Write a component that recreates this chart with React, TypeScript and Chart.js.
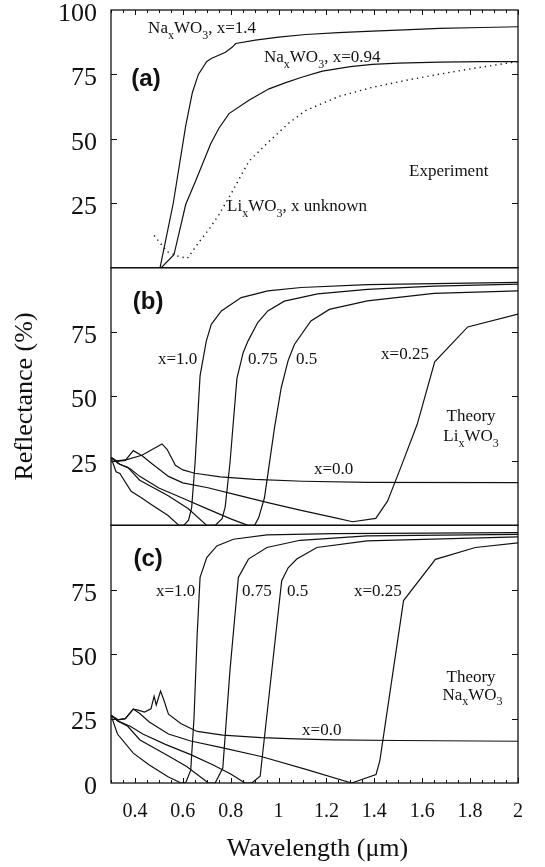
import { useEffect, useRef } from 'react';
import { Chart, registerables } from 'chart.js';

Chart.register(...registerables);

// ---- (a) Experiment ----
const naX14Wavelength = [0.505, 0.56, 0.612, 0.64, 0.665, 0.7, 0.719, 0.778, 0.807, 0.821, 0.903, 1.0, 1.113, 1.25, 1.392, 1.55, 1.672, 1.85, 2.0];
const naX14Reflectance = [0, 25, 55, 68, 75, 80, 81.2, 83.6, 85.6, 87, 88.3, 89.5, 90.5, 91.2, 91.8, 92.4, 92.9, 93.2, 93.5];

const naX094Wavelength = [0.51, 0.563, 0.612, 0.655, 0.716, 0.75, 0.793, 0.876, 0.96, 1.03, 1.1, 1.183, 1.3, 1.392, 1.5, 1.672, 1.85, 2.0];
const naX094Reflectance = [0, 5, 24.5, 34, 48, 54, 59.8, 65, 69.4, 71.8, 74, 76.3, 78, 78.9, 79.4, 79.8, 80, 80];

const liExpWavelength = [0.48, 0.535, 0.58, 0.619, 0.668, 0.71, 0.751, 0.807, 0.876, 0.96, 1.044, 1.113, 1.253, 1.392, 1.532, 1.672, 1.811, 2.0];
const liExpReflectance = [12.5, 6.2, 4.5, 3.6, 10, 15, 20.6, 29.6, 41.3, 49, 56.2, 61, 66.5, 70, 72.7, 75.1, 77.3, 80];

// ---- (b) Theory, LixWO3 ----
const liX00Wavelength = [0.3, 0.325, 0.366, 0.429, 0.513, 0.534, 0.569, 0.6, 0.65, 0.757, 0.9, 1.1, 1.371, 2.0];
const liX00Reflectance = [26.3, 25, 25.5, 27.2, 31.6, 29.5, 23.3, 21.5, 20.2, 18.8, 17.8, 17.1, 16.7, 16.6];

const liX025Wavelength = [0.3, 0.325, 0.36, 0.393, 0.43, 0.47, 0.54, 0.6, 0.705, 0.816, 0.955, 1.094, 1.233, 1.309, 1.406, 1.455, 1.51, 1.579, 1.652, 1.79, 2.0];
const liX025Reflectance = [26.3, 24.8, 25.2, 29, 27, 24, 19, 16.5, 14.6, 12, 8.8, 5.8, 3, 1.4, 2.7, 9.4, 22.4, 39.2, 63.5, 77, 82];

const liX05Wavelength = [0.3, 0.33, 0.38, 0.42, 0.5, 0.6, 0.7, 0.8, 0.872, 0.9, 0.917, 0.941, 0.983, 1.011, 1.04, 1.066, 1.135, 1.212, 1.371, 1.649, 2.0];
const liX05Reflectance = [26.3, 24, 22, 19, 14.5, 10.5, 6.5, 2.5, 0, 0, 3, 10.7, 37.9, 53.4, 64, 70.2, 79.3, 83.8, 87.1, 90, 91];

const liX075Wavelength = [0.3, 0.337, 0.37, 0.42, 0.539, 0.622, 0.7, 0.735, 0.764, 0.777, 0.797, 0.826, 0.852, 0.872, 0.913, 0.955, 1.024, 1.163, 1.371, 1.649, 2.0];
const liX075Reflectance = [26.3, 23.7, 22.5, 17.5, 11.5, 6.5, 0, 0, 2.6, 7.2, 24.3, 57, 67, 71.5, 78.7, 83.2, 87, 89.8, 91.6, 92.8, 93.6];

const liX10Wavelength = [0.3, 0.321, 0.337, 0.384, 0.43, 0.471, 0.537, 0.584, 0.604, 0.624, 0.637, 0.651, 0.672, 0.698, 0.719, 0.761, 0.844, 0.955, 1.094, 1.371, 2.0];
const liX10Reflectance = [26.3, 20.8, 20.1, 13.2, 10.5, 7.9, 3.9, 0, 0, 2, 7, 24, 58, 71.5, 78, 83.2, 88.4, 91, 92.3, 93.4, 94.3];

// ---- (c) Theory, NaxWO3 ----
const naX00Wavelength = [0.3, 0.325, 0.36, 0.393, 0.413, 0.44, 0.467, 0.48, 0.489, 0.507, 0.52, 0.54, 0.593, 0.66, 0.767, 0.927, 1.073, 1.229, 1.5, 2.0];
const naX00Reflectance = [26.3, 24.5, 25, 28.7, 28.3, 27.5, 28.8, 33.7, 30.3, 35.7, 32.4, 26.7, 23, 20, 18.6, 17.6, 17.1, 16.7, 16.5, 16.2];

const naX025Wavelength = [0.3, 0.33, 0.36, 0.393, 0.42, 0.46, 0.54, 0.633, 0.767, 0.927, 1.107, 1.305, 1.407, 1.423, 1.522, 1.655, 1.822, 2.0];
const naX025Reflectance = [26.3, 24.5, 25, 28.7, 27, 23.7, 19, 16.3, 13.6, 10.3, 5.5, 0, 3.3, 8.7, 70.8, 86.8, 91.4, 93.2];

const naX05Wavelength = [0.3, 0.33, 0.38, 0.433, 0.527, 0.633, 0.727, 0.8, 0.86, 0.888, 0.923, 1.013, 1.04, 1.076, 1.16, 1.369, 2.0];
const naX05Reflectance = [26.3, 24, 22, 19, 15, 11, 7, 3.5, 0, 0, 2.6, 78.5, 83.5, 86.9, 91.4, 94, 95.5];

const naX075Wavelength = [0.3, 0.33, 0.37, 0.421, 0.533, 0.616, 0.707, 0.735, 0.767, 0.797, 0.832, 0.874, 0.951, 1.09, 1.369, 2.0];
const naX075Reflectance = [26.3, 24, 22, 16.7, 10.9, 6.4, 0, 0, 5.8, 43.8, 79.8, 86.9, 91.4, 94.2, 95.9, 96.5];

const naX10Wavelength = [0.3, 0.327, 0.393, 0.46, 0.54, 0.593, 0.613, 0.633, 0.647, 0.66, 0.672, 0.7, 0.742, 0.811, 0.951, 1.229, 2.0];
const naX10Reflectance = [26.3, 19, 11.6, 7, 2.3, 0, 0.3, 5, 25.7, 57.7, 79.8, 87.5, 92, 94.6, 96.3, 96.8, 97.2];

// ---- axes ----
const wavelengthTicks = [0.4, 0.6, 0.8, 1.0, 1.2, 1.4, 1.6, 1.8, 2.0];
const reflectanceTicks = [0, 25, 50, 75, 100];
const innerTickValues = [25, 50, 75];

const INK = '#111';
const SERIF = '"Liberation Serif", "Times New Roman", serif';
const SANS = '"Liberation Sans", Arial, sans-serif';

type Note = { axis: string; x: number; y: number; text: string; align?: CanvasTextAlign };

// '_' marks the next character as a subscript
const notes: Note[] = [
  { axis: 'ya', x: 0.455, y: 91, text: 'Na_xWO_3, x=1.4' },
  { axis: 'ya', x: 0.939, y: 79.7, text: 'Na_xWO_3, x=0.94' },
  { axis: 'ya', x: 0.785, y: 21.8, text: 'Li_xWO_3, x unknown' },
  { axis: 'ya', x: 1.545, y: 35.6, text: 'Experiment' },
  { axis: 'yb', x: 0.496, y: 62.6, text: 'x=1.0' },
  { axis: 'yb', x: 0.872, y: 62.6, text: '0.75' },
  { axis: 'yb', x: 1.073, y: 62.6, text: '0.5' },
  { axis: 'yb', x: 1.428, y: 64.6, text: 'x=0.25' },
  { axis: 'yb', x: 1.804, y: 40.5, text: 'Theory', align: 'center' },
  { axis: 'yb', x: 1.804, y: 32.7, text: 'Li_xWO_3', align: 'center' },
  { axis: 'yb', x: 1.148, y: 19.8, text: 'x=0.0' },
  { axis: 'yc', x: 0.488, y: 72.7, text: 'x=1.0' },
  { axis: 'yc', x: 0.847, y: 72.7, text: '0.75' },
  { axis: 'yc', x: 1.035, y: 72.7, text: '0.5' },
  { axis: 'yc', x: 1.315, y: 72.7, text: 'x=0.25' },
  { axis: 'yc', x: 1.804, y: 39.2, text: 'Theory', align: 'center' },
  { axis: 'yc', x: 1.81, y: 32.3, text: 'Na_xWO_3', align: 'center' },
  { axis: 'yc', x: 1.098, y: 18.8, text: 'x=0.0' },
];

const panelTags = [
  { axis: 'ya', x: 0.446, y: 73.2, text: '(a)' },
  { axis: 'yb', x: 0.455, y: 86.4, text: '(b)' },
  { axis: 'yc', x: 0.455, y: 86.9, text: '(c)' },
];

const panelAxes = ['ya', 'yb', 'yc'];

const pts = (xs: number[], ys: number[]) => xs.map((x, i) => ({ x, y: ys[i] }));

function curve(axis: string, label: string, xs: number[], ys: number[], dashed = false) {
  return {
    label,
    yAxisID: axis,
    data: pts(xs, ys),
    borderColor: INK,
    borderWidth: dashed ? 1.4 : 1.2,
    borderDash: dashed ? [1.3, 4] : [],
    pointRadius: 0,
    fill: false,
    tension: 0,
  };
}

function drawRich(ctx: CanvasRenderingContext2D, text: string, x: number, y: number, size: number, align: CanvasTextAlign = 'left') {
  const parts: { t: string; sub: boolean }[] = [];
  for (let i = 0; i < text.length; i++) {
    if (text[i] === '_' && i + 1 < text.length) {
      parts.push({ t: text[i + 1], sub: true });
      i++;
    } else {
      const last = parts[parts.length - 1];
      if (last && !last.sub) last.t += text[i];
      else parts.push({ t: text[i], sub: false });
    }
  }
  const subSize = Math.round(size * 0.72);
  const fontOf = (p: { sub: boolean }) => `${p.sub ? subSize : size}px ${SERIF}`;
  let width = 0;
  for (const p of parts) {
    ctx.font = fontOf(p);
    width += ctx.measureText(p.t).width;
  }
  let cx = align === 'center' ? x - width / 2 : x;
  ctx.textAlign = 'left';
  ctx.textBaseline = 'alphabetic';
  for (const p of parts) {
    ctx.font = fontOf(p);
    ctx.fillText(p.t, cx, p.sub ? y + size * 0.32 : y);
    cx += ctx.measureText(p.t).width;
  }
}

const framePlugin = {
  id: 'panelFrame',
  afterDraw(chart: any) {
    const { ctx, chartArea, scales } = chart;
    const xs = scales.x;
    const { left, right } = chartArea;
    ctx.save();
    ctx.strokeStyle = INK;
    ctx.fillStyle = INK;
    ctx.lineWidth = 1.3;
    const seg = (x1: number, y1: number, x2: number, y2: number) => {
      ctx.beginPath();
      ctx.moveTo(x1, y1);
      ctx.lineTo(x2, y2);
      ctx.stroke();
    };
    for (const id of panelAxes) {
      const s = scales[id];
      ctx.strokeRect(left, s.top, right - left, s.bottom - s.top);
      ctx.lineWidth = 1;
      for (const v of innerTickValues) {
        const py = Math.round(s.getPixelForValue(v)) + 0.5;
        seg(left, py, left + 6, py);
        seg(right - 6, py, right, py);
      }
      ctx.lineWidth = 1.3;
    }
    // wavelength ticks along the top and bottom edges
    const top = scales.ya.top;
    const bottom = scales.yc.bottom;
    ctx.lineWidth = 1;
    for (let i = 0; i <= 34; i++) {
      const v = 0.3 + i * 0.05;
      const major = wavelengthTicks.some((t) => Math.abs(t - v) < 1e-6);
      const len = major ? 5 : 3;
      const px = Math.round(xs.getPixelForValue(v)) + 0.5;
      seg(px, top, px, top + len);
      seg(px, bottom, px, bottom - len);
    }

    // curve annotations
    for (const n of notes) {
      const s = scales[n.axis];
      drawRich(ctx, n.text, xs.getPixelForValue(n.x), s.getPixelForValue(n.y), 17, n.align);
    }
    // panel tags
    ctx.font = `bold 24px ${SANS}`;
    ctx.textAlign = 'center';
    ctx.textBaseline = 'middle';
    for (const t of panelTags) {
      ctx.fillText(t.text, xs.getPixelForValue(t.x), scales[t.axis].getPixelForValue(t.y));
    }
    // axis titles
    ctx.font = `26px ${SERIF}`;
    ctx.fillText('Wavelength (\u03bcm)', (left + right) / 2 + 3, 849);
    ctx.save();
    ctx.translate(25, (scales.ya.top + scales.yc.bottom) / 2);
    ctx.rotate(-Math.PI / 2);
    ctx.fillText('Reflectance (%)', 0, 0);
    ctx.restore();
    ctx.restore();
  },
};

function panelAxis(weight: number, hide: number[]) {
  return {
    type: 'linear' as const,
    position: 'left' as const,
    stack: 'panels',
    stackWeight: 1,
    weight,
    min: 0,
    max: 100,
    afterBuildTicks: (s: any) => {
      s.ticks = reflectanceTicks.map((value) => ({ value }));
    },
    afterFit: (s: any) => {
      s.width = 111;
      s.paddingTop = 0;
      s.paddingBottom = 0;
    },
    grid: { display: false, drawTicks: false },
    border: { display: false },
    ticks: {
      callback: (v: any) => (hide.includes(Number(v)) ? '' : String(v)),
      font: { family: SERIF, size: 26 },
      color: INK,
      padding: 14,
      labelOffset: 4,
    },
  };
}

export default function App() {
  const ref = useRef<HTMLCanvasElement>(null);
  useEffect(() => {
    if (!ref.current) return;
    const chart = new Chart(ref.current, {
      type: 'line',
      data: {
        datasets: [
          curve('ya', 'NaxWO3, x=1.4', naX14Wavelength, naX14Reflectance),
          curve('ya', 'NaxWO3, x=0.94', naX094Wavelength, naX094Reflectance),
          curve('ya', 'LixWO3, x unknown', liExpWavelength, liExpReflectance, true),
          curve('yb', 'Li x=0.0', liX00Wavelength, liX00Reflectance),
          curve('yb', 'Li x=0.25', liX025Wavelength, liX025Reflectance),
          curve('yb', 'Li x=0.5', liX05Wavelength, liX05Reflectance),
          curve('yb', 'Li x=0.75', liX075Wavelength, liX075Reflectance),
          curve('yb', 'Li x=1.0', liX10Wavelength, liX10Reflectance),
          curve('yc', 'Na x=0.0', naX00Wavelength, naX00Reflectance),
          curve('yc', 'Na x=0.25', naX025Wavelength, naX025Reflectance),
          curve('yc', 'Na x=0.5', naX05Wavelength, naX05Reflectance),
          curve('yc', 'Na x=0.75', naX075Wavelength, naX075Reflectance),
          curve('yc', 'Na x=1.0', naX10Wavelength, naX10Reflectance),
        ],
      },
      options: {
        animation: false,
        responsive: false,
        devicePixelRatio: 1,
        layout: { padding: { left: 0, right: 27, top: 10, bottom: 0 } },
        plugins: { legend: { display: false }, tooltip: { enabled: false } },
        scales: {
          x: {
            type: 'linear',
            position: 'bottom',
            min: 0.3,
            max: 2.0,
            afterBuildTicks: (s: any) => {
              s.ticks = wavelengthTicks.map((value) => ({ value }));
            },
            afterFit: (s: any) => {
              s.height = 84;
              s.paddingLeft = 0;
              s.paddingRight = 0;
            },
            grid: { display: false, drawTicks: false },
            border: { display: false },
            ticks: {
              callback: (v: any) => String(Number(Number(v).toFixed(2))),
              font: { family: SERIF, size: 20 },
              color: INK,
              padding: 17,
              maxRotation: 0,
              autoSkip: false,
            },
          },
          ya: panelAxis(3, [0]),
          yb: panelAxis(2, [0, 100]),
          yc: panelAxis(1, [100]),
        } as any,
      },
      plugins: [framePlugin],
    });
    return () => chart.destroy();
  }, []);
  return (
    <div style={{ position: 'absolute', left: 0, top: 0, width: 545, height: 867, background: '#fff' }}>
      <canvas ref={ref} width={545} height={867} style={{ display: 'block', width: 545, height: 867 }} />
    </div>
  );
}
